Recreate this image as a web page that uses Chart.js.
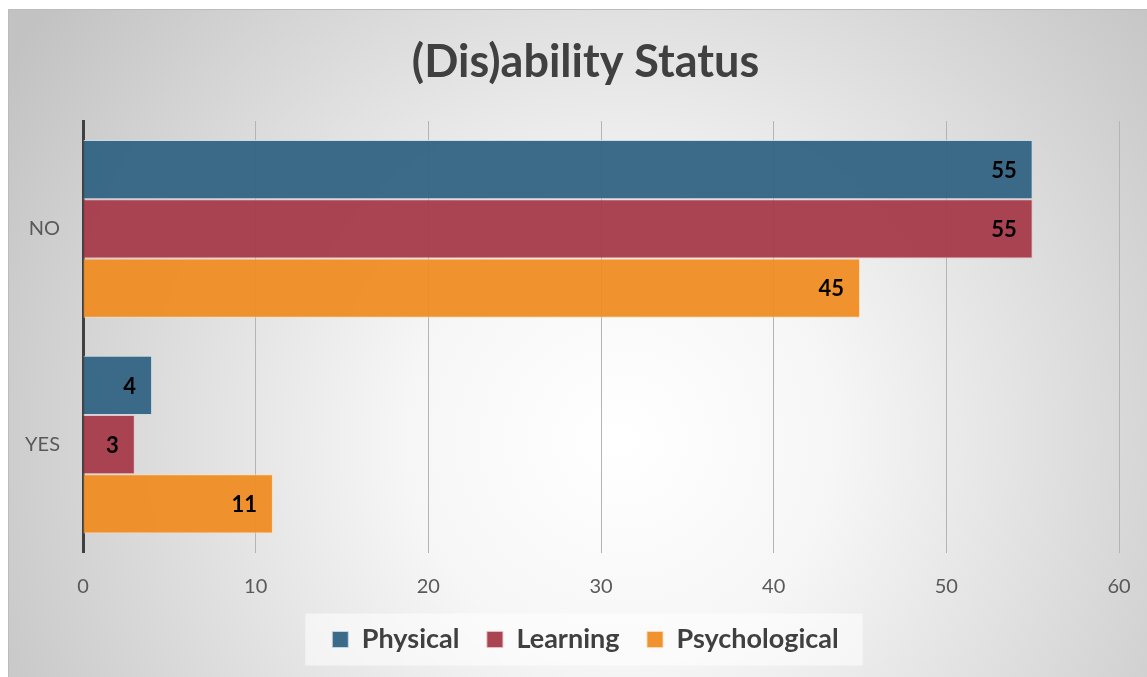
<!DOCTYPE html>
<html><head><meta charset="utf-8">
<script src="https://cdn.jsdelivr.net/npm/chart.js@4.4.0/dist/chart.umd.min.js"></script>
<style>html,body{margin:0;padding:0;background:#fff;overflow:hidden;width:1147px;height:677px;}</style>
</head><body>
<canvas id="c" width="1171" height="677" style="display:block;width:1171px;height:677px"></canvas>
<script>
const categories = ['NO', 'YES'];
const seriesNames = ['Physical', 'Learning', 'Psychological'];
const physical = [55, 4];
const learning = [55, 3];
const psychological = [45, 11];
const xTickMin = 0, xTickMax = 60, xTickStep = 10;
const titleText = '(Dis)ability Status';

const FONT = 'Lato, "Open Sans", sans-serif';

const bgPlugin = {
  id: 'bg',
  beforeDraw(chart) {
    const ctx = chart.ctx, W = chart.width, H = chart.height;
    ctx.save();
    ctx.fillStyle = '#ffffff';
    ctx.fillRect(0, 0, W, H);
    const g = ctx.createRadialGradient(620, 440, 0, 620, 440, 720);
    g.addColorStop(0, '#ffffff');
    g.addColorStop(0.3, '#f6f6f6');
    g.addColorStop(1, '#c2c2c2');
    ctx.fillStyle = g;
    ctx.fillRect(8, 9, W - 8, H - 9);
    ctx.strokeStyle = '#bcbcbc';
    ctx.lineWidth = 1;
    ctx.beginPath();
    ctx.moveTo(8.5, H);
    ctx.lineTo(8.5, 9.5);
    ctx.lineTo(W, 9.5);
    ctx.stroke();
    const lg = chart.legend;
    if (lg && lg.legendHitBoxes && lg.legendHitBoxes.length) {
      let x0 = Infinity, x1 = -Infinity, y0 = Infinity, y1 = -Infinity;
      lg.legendHitBoxes.forEach(b => {
        x0 = Math.min(x0, b.left); x1 = Math.max(x1, b.left + b.width);
        y0 = Math.min(y0, b.top); y1 = Math.max(y1, b.top + b.height);
      });
      const cy = (y0 + y1) / 2;
      ctx.fillStyle = 'rgba(255,255,255,0.55)';
      ctx.fillRect(x0 - 27, cy - 26, (x1 - x0) + 51, 52);
    }
    ctx.restore();
  }
};

const labelPlugin = {
  id: 'valueLabels',
  afterDatasetsDraw(chart) {
    const ctx = chart.ctx;
    ctx.save();
    ctx.font = 'bold 22px ' + FONT;
    ctx.fillStyle = '#000000';
    ctx.textAlign = 'right';
    ctx.textBaseline = 'middle';
    chart.data.datasets.forEach((ds, i) => {
      const meta = chart.getDatasetMeta(i);
      meta.data.forEach((el, j) => {
        ctx.fillText(String(ds.data[j]), el.x - 16, el.y + 1);
      });
    });
    ctx.restore();
  }
};

const colors = ['rgba(52,101,133,0.96)', 'rgba(168,60,75,0.96)', 'rgba(239,140,35,0.95)'];
const borders = ['rgba(200,218,230,0.85)', 'rgba(235,190,195,0.85)', 'rgba(255,220,180,0.85)'];
const seriesData = [physical, learning, psychological];

new Chart(document.getElementById('c'), {
  type: 'bar',
  data: {
    labels: categories,
    datasets: seriesNames.map((n, i) => ({
      label: n,
      data: seriesData[i],
      backgroundColor: colors[i],
      borderColor: borders[i],
      borderWidth: 1,
      barPercentage: 1.0,
      categoryPercentage: 0.823
    }))
  },
  options: {
    indexAxis: 'y',
    responsive: false,
    animation: false,
    devicePixelRatio: 1,
    layout: { padding: { left: 0, right: 0, top: 0, bottom: 14 } },
    plugins: {
      title: {
        display: true,
        text: titleText,
        color: '#404040',
        font: { family: FONT, size: 45, weight: 'bold' },
        padding: { top: 35, bottom: 32 }
      },
      legend: {
        position: 'bottom',
        labels: {
          color: '#404040',
          font: { family: FONT, size: 27, weight: 'bold' },
          boxWidth: 16,
          boxHeight: 16,
          padding: 27.5
        }
      },
      tooltip: { enabled: false }
    },
    scales: {
      x: {
        min: xTickMin, max: xTickMax,
        ticks: { stepSize: xTickStep, color: '#595959', font: { family: FONT, size: 20 }, padding: 22 },
        grid: { color: '#b4b4b4', drawTicks: false },
        border: { display: false },
        afterFit(s) { s.height -= 22; s.paddingLeft = 0; s.paddingRight = 52; }
      },
      y: {
        grid: { display: false, drawTicks: false },
        border: { color: '#404040', width: 3 },
        ticks: { color: '#595959', font: { family: FONT, size: 20 }, padding: 23 },
        afterFit(s) { s.width = 83; }
      }
    }
  },
  plugins: [bgPlugin, labelPlugin]
});
</script>
</body></html>
